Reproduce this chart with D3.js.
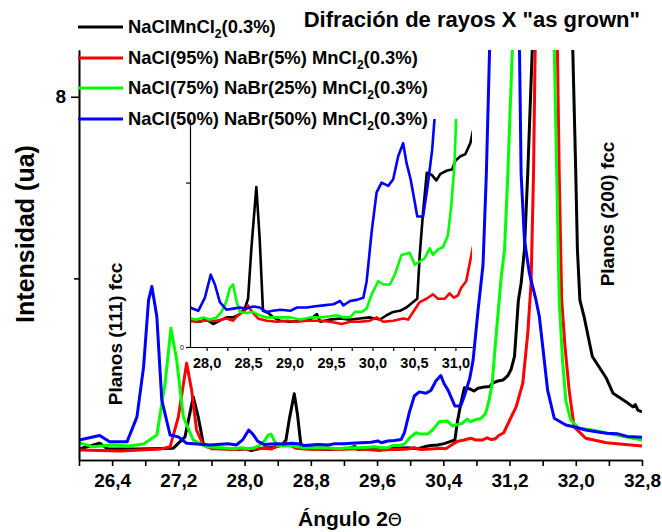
<!DOCTYPE html>
<html>
<head>
<meta charset="utf-8">
<script src="https://cdn.jsdelivr.net/npm/d3@7"></script>
<style>
body { margin: 0; background: #fff; }
svg text { font-family: "Liberation Sans", Arial, sans-serif; font-weight: bold; fill: #000; }
</style>
</head>
<body>
<div id="xrd-chart"></div>
<script>
// 2-theta (deg) and intensity (ua), one pair per sample
const angleBlack = [26.00, 26.25, 26.35, 26.70, 27.14, 27.28, 27.38, 27.44, 27.50, 27.60, 27.80, 27.92, 28.00, 28.08, 28.16, 28.24, 28.32, 28.40, 28.46, 28.50, 28.54, 28.60, 28.64, 28.68, 28.745, 28.805, 28.886, 29.006, 29.127, 29.248, 29.33, 29.37, 29.49, 29.61, 29.73, 29.85, 29.97, 30.09, 30.17, 30.25, 30.33, 30.41, 30.49, 30.54, 30.57, 30.61, 30.655, 30.715, 30.77, 30.82, 30.90, 30.96, 31.00, 31.06, 31.12, 31.18, 31.22, 31.26, 31.307, 31.34, 31.38, 31.42, 31.476, 31.72, 31.963, 32.00, 32.02, 32.05, 32.10, 32.20, 32.37, 32.45, 32.61, 32.69, 32.72, 32.75, 32.80];
const intBlack = [0.24, 0.37, 0.24, 0.24, 0.26, 0.51, 1.39, 0.95, 0.37, 0.26, 0.24, 0.23, 0.25, 0.21, 0.24, 0.27, 0.27, 0.30, 0.35, 0.44, 0.90, 1.46, 0.99, 0.33, 0.31, 0.27, 0.24, 0.23, 0.24, 0.25, 0.30, 0.23, 0.25, 0.26, 0.25, 0.26, 0.27, 0.25, 0.29, 0.32, 0.33, 0.36, 0.41, 0.44, 0.84, 1.23, 1.59, 1.57, 1.52, 1.58, 1.61, 1.62, 1.70, 1.74, 1.76, 1.86, 2.00, 2.28, 3.52, 3.89, 4.63, 6.32, 9.10, 30.0, 9.10, 6.32, 4.63, 3.52, 3.16, 2.28, 1.80, 1.47, 1.28, 1.17, 1.22, 1.10, 1.06];

const angleRed = [26.00, 26.50, 26.98, 27.10, 27.20, 27.30, 27.36, 27.42, 27.50, 27.60, 27.80, 27.88, 27.96, 28.12, 28.24, 28.32, 28.38, 28.46, 28.50, 28.54, 28.62, 28.725, 28.85, 28.97, 29.09, 29.21, 29.37, 29.49, 29.63, 29.73, 29.85, 29.97, 30.05, 30.13, 30.25, 30.37, 30.43, 30.49, 30.57, 30.65, 30.73, 30.79, 30.87, 30.93, 30.98, 31.03, 31.07, 31.13, 31.20, 31.28, 31.36, 31.42, 31.46, 31.49, 31.51, 31.64, 31.778, 31.80, 31.83, 31.87, 31.92, 31.98, 32.12, 32.37, 32.80];
const intRed = [0.22, 0.20, 0.24, 0.29, 0.95, 2.13, 1.54, 0.66, 0.33, 0.25, 0.24, 0.23, 0.24, 0.24, 0.26, 0.24, 0.29, 0.33, 0.38, 0.33, 0.26, 0.24, 0.23, 0.24, 0.23, 0.24, 0.24, 0.23, 0.21, 0.23, 0.23, 0.24, 0.27, 0.23, 0.24, 0.26, 0.25, 0.32, 0.41, 0.44, 0.48, 0.44, 0.44, 0.49, 0.45, 0.47, 0.54, 0.60, 0.87, 1.17, 1.69, 2.79, 3.89, 6.32, 9.10, 30.0, 9.10, 6.32, 3.52, 2.50, 1.54, 0.73, 0.48, 0.38, 0.31];

const angleGreen = [26.00, 26.17, 26.40, 26.60, 26.78, 26.94, 27.04, 27.11, 27.18, 27.26, 27.38, 27.54, 27.80, 27.88, 27.96, 28.04, 28.12, 28.18, 28.24, 28.28, 28.32, 28.36, 28.40, 28.48, 28.56, 28.64, 28.72, 28.80, 28.89, 29.01, 29.13, 29.25, 29.37, 29.49, 29.57, 29.65, 29.73, 29.79, 29.87, 29.93, 29.99, 30.07, 30.13, 30.21, 30.27, 30.35, 30.45, 30.51, 30.57, 30.63, 30.69, 30.73, 30.79, 30.85, 30.91, 30.95, 30.99, 31.04, 31.10, 31.14, 31.18, 31.235, 31.49, 31.74, 31.77, 31.80, 31.84, 31.88, 31.94, 32.04, 32.20, 32.49, 32.80];
const intGreen = [0.38, 0.29, 0.33, 0.31, 0.35, 0.55, 1.69, 2.90, 2.20, 0.95, 0.44, 0.29, 0.26, 0.25, 0.27, 0.25, 0.27, 0.32, 0.42, 0.54, 0.57, 0.42, 0.32, 0.31, 0.32, 0.29, 0.27, 0.27, 0.27, 0.27, 0.25, 0.27, 0.27, 0.28, 0.29, 0.27, 0.27, 0.32, 0.32, 0.35, 0.48, 0.60, 0.57, 0.57, 0.66, 0.84, 0.86, 0.75, 0.78, 0.81, 0.90, 0.84, 0.89, 0.91, 1.02, 1.29, 1.68, 2.79, 4.04, 4.63, 6.32, 9.10, 30.0, 9.10, 6.32, 3.52, 2.20, 1.30, 0.88, 0.70, 0.66, 0.55, 0.44];

const angleBlue = [26.00, 26.25, 26.37, 26.58, 26.70, 26.78, 26.84, 26.88, 26.94, 27.00, 27.10, 27.20, 27.30, 27.58, 27.80, 27.90, 27.98, 28.05, 28.10, 28.16, 28.24, 28.32, 28.40, 28.48, 28.56, 28.64, 28.72, 28.80, 28.89, 29.01, 29.09, 29.21, 29.29, 29.41, 29.53, 29.61, 29.65, 29.73, 29.81, 29.89, 29.93, 29.99, 30.05, 30.11, 30.19, 30.25, 30.31, 30.37, 30.41, 30.46, 30.51, 30.54, 30.61, 30.66, 30.72, 30.76, 30.82, 30.88, 30.92, 30.96, 31.14, 31.32, 31.34, 31.38, 31.44, 31.52, 31.56, 31.66, 31.74, 31.88, 32.00, 32.12, 32.25, 32.37, 32.50, 32.62, 32.80];
const intBlue = [0.44, 0.54, 0.40, 0.40, 0.95, 2.05, 3.52, 3.82, 3.16, 1.32, 0.55, 0.51, 0.37, 0.33, 0.36, 0.33, 0.45, 0.66, 0.57, 0.41, 0.34, 0.35, 0.36, 0.35, 0.37, 0.36, 0.32, 0.33, 0.34, 0.33, 0.36, 0.36, 0.37, 0.38, 0.39, 0.42, 0.38, 0.42, 0.43, 0.45, 0.60, 1.05, 1.41, 1.50, 1.47, 1.53, 1.74, 1.86, 1.68, 1.53, 1.32, 1.19, 1.19, 1.44, 1.80, 2.20, 3.30, 4.30, 6.30, 9.10, 30.0, 9.10, 6.30, 4.85, 4.11, 3.52, 3.16, 1.54, 0.92, 0.77, 0.72, 0.66, 0.62, 0.59, 0.58, 0.52, 0.50];

const seriesNames = ["NaClMnCl", "NaCl(95%) NaBr(5%) MnCl", "NaCl(75%) NaBr(25%) MnCl", "NaCl(50%) NaBr(50%) MnCl"];
const seriesSuffix = "(0.3%)";

// tick labels
const mainTickLabeled = [26.4, 27.2, 28.0, 28.8, 29.6, 30.4, 31.2, 32.0, 32.8];
const mainTickMinor = [26.0, 26.8, 27.6, 28.4, 29.2, 30.0, 30.8, 31.6, 32.4];
const insetTickLabeled = [28.0, 28.5, 29.0, 29.5, 30.0, 30.5, 31.0];
const insetTickMinor = [28.25, 28.75, 29.25, 29.75, 30.25, 30.75];

const colors = ["#000000", "#ff0000", "#00ff00", "#0000ff"];

const series = [
    { angle: angleBlack, value: intBlack },
    { angle: angleRed, value: intRed },
    { angle: angleGreen, value: intGreen },
    { angle: angleBlue, value: intBlue }
].map((s, i) => ({
    name: seriesNames[i],
    color: colors[i],
    points: s.angle.map((a, j) => ({ a: a, v: s.value[j] }))
}));

const width = 662, height = 532;
const comma = d => d3.format(".1f")(d).replace(".", ",");

const svg = d3.select("#xrd-chart")
    .append("svg")
    .attr("width", width)
    .attr("height", height);

// ---------- main plot ----------
const main = { left: 79, right: 642, top: 50, bottom: 460 };

var x = d3.scaleLinear().domain([26.0, 32.8]).range([main.left, main.right]);
var y = d3.scaleLinear().domain([0, 9.03]).range([main.bottom, main.top]);

svg.append("clipPath").attr("id", "clip-main")
    .append("rect")
    .attr("x", main.left).attr("y", main.top)
    .attr("width", main.right - main.left).attr("height", main.bottom - main.top);

var line = d3.line().x(d => x(d.a)).y(d => y(d.v));

svg.append("g").attr("clip-path", "url(#clip-main)")
    .selectAll("path")
    .data(series)
    .enter().append("path")
    .attr("d", d => line(d.points))
    .attr("fill", "none")
    .attr("stroke", d => d.color)
    .attr("stroke-width", 3)
    .attr("stroke-linejoin", "round");

function styleAxis(g, size) {
    g.attr("font-family", null).attr("font-size", null);
    g.select(".domain").attr("stroke-width", 1.6);
    g.selectAll(".tick line").attr("stroke-width", 1.6);
    g.selectAll(".tick text").style("font-size", size + "px");
}

// x axis
svg.append("g")
    .attr("transform", "translate(0," + main.bottom + ")")
    .call(d3.axisBottom(x).tickValues(mainTickMinor).tickSize(6).tickSizeOuter(0).tickFormat(""))
    .call(g => styleAxis(g, 19));
svg.append("g")
    .attr("transform", "translate(0," + main.bottom + ")")
    .call(d3.axisBottom(x).tickValues(mainTickLabeled).tickSize(6).tickSizeOuter(0).tickPadding(8).tickFormat(comma))
    .call(g => styleAxis(g, 19));

// y axis
svg.append("g")
    .attr("transform", "translate(" + main.left + ",0)")
    .call(d3.axisLeft(y).tickValues([4]).tickSize(5).tickSizeOuter(0).tickFormat(""))
    .call(g => styleAxis(g, 19));
svg.append("g")
    .attr("transform", "translate(" + main.left + ",0)")
    .call(d3.axisLeft(y).tickValues([8]).tickSize(8).tickSizeOuter(0).tickPadding(5).tickFormat(d3.format("d")))
    .call(g => styleAxis(g, 19));

// ---------- inset ----------
const inset = { left: 190, right: 472, top: 119, bottom: 347 };

var xi = d3.scaleLinear().domain([27.8, 31.2]).range([inset.left, inset.right]);
var yi = d3.scaleLinear().domain([0, 2.08]).range([inset.bottom, inset.top]);

svg.append("clipPath").attr("id", "clip-inset")
    .append("rect")
    .attr("x", inset.left).attr("y", inset.top)
    .attr("width", inset.right - inset.left).attr("height", inset.bottom - inset.top);

var lineInset = d3.line().x(d => xi(d.a)).y(d => yi(d.v));

svg.append("g").attr("clip-path", "url(#clip-inset)")
    .selectAll("path")
    .data(series)
    .enter().append("path")
    .attr("d", d => lineInset(d.points))
    .attr("fill", "none")
    .attr("stroke", d => d.color)
    .attr("stroke-width", 2.6)
    .attr("stroke-linejoin", "round");

function styleInset(g, size) {
    g.attr("font-family", null).attr("font-size", null);
    g.select(".domain").attr("stroke-width", 1.2);
    g.selectAll(".tick line").attr("stroke-width", 1.2);
    g.selectAll(".tick text").style("font-size", size + "px");
}

svg.append("g")
    .attr("transform", "translate(0," + inset.bottom + ")")
    .call(d3.axisBottom(xi).tickValues(insetTickMinor).tickSize(4).tickSizeOuter(0).tickFormat(""))
    .call(g => styleInset(g, 14.5));
svg.append("g")
    .attr("transform", "translate(0," + inset.bottom + ")")
    .call(d3.axisBottom(xi).tickValues(insetTickLabeled).tickSize(4).tickSizeOuter(0).tickPadding(7).tickFormat(comma))
    .call(g => styleInset(g, 14.5));

svg.append("g")
    .attr("transform", "translate(" + inset.left + ",0)")
    .call(d3.axisLeft(yi).tickValues([0, 1.5]).tickSize(4).tickSizeOuter(0).tickPadding(2)
        .tickFormat(d => d === 0 ? "0" : ""))
    .call(g => styleInset(g, 7))
    .call(g => g.selectAll(".tick text").style("font-weight", "normal"));

// ---------- labels ----------
svg.append("text")
    .attr("text-anchor", "end")
    .attr("x", 640)
    .attr("y", 27)
    .style("font-size", "22px")
    .text("Difración de rayos X \"as grown\"");

svg.append("text")
    .attr("text-anchor", "middle")
    .attr("transform", "translate(34,234) rotate(-90)")
    .style("font-size", "25px")
    .text("Intensidad (ua)");

var xLabel = svg.append("text")
    .attr("text-anchor", "middle")
    .attr("x", 350)
    .attr("y", 526)
    .style("font-size", "21px");
xLabel.append("tspan").text("Ángulo 2");
xLabel.append("tspan")
    .style("font-weight", "normal")
    .style("font-family", "'DejaVu Sans', sans-serif")
    .style("font-size", "18px")
    .text("Θ");

svg.append("text")
    .attr("text-anchor", "middle")
    .attr("transform", "translate(122,334) rotate(-90)")
    .style("font-size", "19px")
    .text("Planos (111) fcc");

svg.append("text")
    .attr("text-anchor", "middle")
    .attr("transform", "translate(614,214) rotate(-90)")
    .style("font-size", "19px")
    .text("Planos (200) fcc");

// ---------- legend ----------
const legendRowY = [27, 58, 88, 119];
var legend = svg.append("g")
    .selectAll("g")
    .data(series)
    .enter().append("g")
    .attr("transform", (d, i) => "translate(0," + legendRowY[i] + ")");

legend.append("line")
    .attr("x1", 78).attr("x2", 123)
    .attr("stroke", d => d.color)
    .attr("stroke-width", 3);

var legendText = legend.append("text")
    .attr("x", 128)
    .attr("y", 6)
    .style("font-size", "18.4px");
legendText.append("tspan").text(d => d.name);
legendText.append("tspan").attr("dy", 5).style("font-size", "12px").text("2");
legendText.append("tspan").attr("dy", -5).text(seriesSuffix);
</script>
</body>
</html>
